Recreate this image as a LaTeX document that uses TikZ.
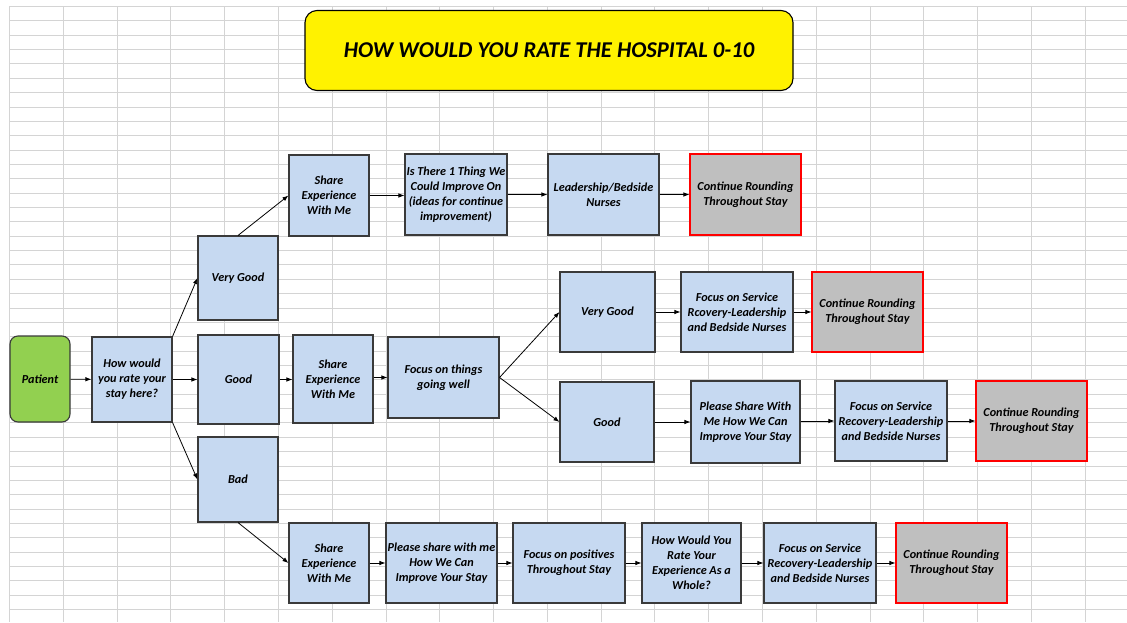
\documentclass[tikz,border=0pt]{standalone}
\usepackage{fontspec}
\setmainfont{Carlito}
\usetikzlibrary{arrows.meta}
\definecolor{gridc}{HTML}{D4D4D4}
\definecolor{boxblue}{HTML}{C6D9F1}
\definecolor{boxline}{HTML}{3A3A3A}
\definecolor{greyfill}{HTML}{BFBFBF}
\definecolor{patgreen}{HTML}{92D050}
\tikzset{
  base/.style={draw=boxline, line width=1.1pt, align=center, inner sep=0pt,
    font=\fontsize{12.2}{15}\selectfont\bfseries\itshape},
  bbox/.style={base, fill=boxblue},
  gbox/.style={base, fill=greyfill, draw=red},
  conn/.style={line width=0.8pt, -{Latex[length=6pt,width=4.5pt]}},
}
\begin{document}
\begin{tikzpicture}[x=1pt,y=-1pt]
\useasboundingbox (0,0) rectangle (1127,622);
\fill[white] (0,0) rectangle (1127,622);
% spreadsheet grid
\foreach \k in {0,...,20} {
  \pgfmathsetmacro{\gx}{round(9+53.79*\k)+0.5}
  \draw[gridc, line width=1.4pt] (\gx,6) -- (\gx,622);
}
\foreach \j in {0,...,42} {
  \pgfmathsetmacro{\gy}{round(6+14.36*\j)+0.5}
  \draw[gridc, line width=1.4pt] (9,\gy) -- (1127,\gy);
}
% title
\node[base, fill=yellow, draw=black, rounded corners=12pt, minimum width=488pt, minimum height=80pt,
  font=\fontsize{22.6}{26}\selectfont\bfseries\itshape] (title) at (549,50.5) {HOW WOULD YOU RATE THE HOSPITAL 0-10};
% left part
\node[base, fill=patgreen, rounded corners=8pt, minimum width=60pt, minimum height=86pt] (patient) at (40,379) {Patient};
\node[bbox, minimum width=80pt, minimum height=85pt] (how) at (132,379.5) {How would\\you rate your\\stay here?};
\node[bbox, minimum width=80pt, minimum height=84pt] (vg1) at (238,278) {Very Good};
\node[bbox, minimum width=81pt, minimum height=89pt] (g1) at (238.5,379.5) {Good};
\node[bbox, minimum width=80pt, minimum height=85pt] (bad) at (238,479.5) {Bad};
% top row
\node[bbox, minimum width=80pt, minimum height=81pt] (share1) at (329,195.5) {Share\\Experience\\With Me};
\node[bbox, minimum width=102pt, minimum height=81pt] (isthere) at (456,194.5) {Is There 1 Thing We\\Could Improve On\\(ideas for continue\\improvement)};
\node[bbox, minimum width=111pt, minimum height=81pt] (lead) at (603.5,194.5) {Leadership/Bedside\\Nurses};
\node[gbox, minimum width=111pt, minimum height=81pt] (cont1) at (745.5,194.5) {Continue Rounding\\Throughout Stay};
% middle row
\node[bbox, minimum width=80pt, minimum height=88pt] (share2) at (333,379) {Share\\Experience\\With Me};
\node[bbox, minimum width=111pt, minimum height=81pt] (focus) at (443.5,377.5) {Focus on things\\going well};
\node[bbox, minimum width=95pt, minimum height=80pt] (vg2) at (607.5,312) {Very Good};
\node[bbox, minimum width=112pt, minimum height=80pt] (fsr1) at (737,312) {Focus on Service\\Rcovery-Leadership\\and Bedside Nurses};
\node[gbox, minimum width=111pt, minimum height=80pt] (cont2) at (867.5,312) {Continue Rounding\\Throughout Stay};
\node[bbox, minimum width=94pt, minimum height=80pt] (g2) at (607,422) {Good};
\node[bbox, minimum width=109pt, minimum height=82pt] (please) at (745.5,422) {Please Share With\\Me How We Can\\Improve Your Stay};
\node[bbox, minimum width=112pt, minimum height=80pt] (fsr2) at (891,421) {Focus on Service\\Recovery-Leadership\\and Bedside Nurses};
\node[gbox, minimum width=111pt, minimum height=80pt] (cont3) at (1031.5,421) {Continue Rounding\\Throughout Stay};
% bottom row
\node[bbox, minimum width=80pt, minimum height=80pt] (share3) at (329,563) {Share\\Experience\\With Me};
\node[bbox, minimum width=111pt, minimum height=80pt] (please3) at (441.5,563) {Please share with me\\How We Can\\Improve Your Stay};
\node[bbox, minimum width=112pt, minimum height=80pt] (fpos) at (569,563) {Focus on positives\\Throughout Stay};
\node[bbox, minimum width=99pt, minimum height=80pt] (hwy) at (691.5,563) {How Would You\\Rate Your\\Experience As a\\Whole?};
\node[bbox, minimum width=112pt, minimum height=80pt] (fsr3) at (820,563) {Focus on Service\\Recovery-Leadership\\and Bedside Nurses};
\node[gbox, minimum width=111pt, minimum height=80pt] (cont4) at (951.5,563) {Continue Rounding\\Throughout Stay};
% connectors
\draw[conn] (patient) -- (how);
\draw[conn] (how.north east) -- (vg1.west);
\draw[conn] (how) -- (g1);
\draw[conn] (how.south east) -- (bad.west);
\draw[conn] (vg1.north) -- (share1.west);
\draw[conn] (share1.east) -- (share1.east -| isthere.west);
\draw[conn] (isthere.east) -- (isthere.east -| lead.west);
\draw[conn] (lead) -- (cont1);
\draw[conn] (g1) -- (share2.west |- g1.east);
\draw[conn] (share2.east |- focus.east) -- (focus.west);
\draw[conn] (focus.east) -- (vg2.west);
\draw[conn] (focus.east) -- (g2.west);
\draw[conn] (vg2) -- (fsr1);
\draw[conn] (fsr1) -- (cont2);
\draw[conn] (g2) -- (please.west |- g2.east);
\draw[conn] (please.east |- fsr2.west) -- (fsr2.west);
\draw[conn] (fsr2) -- (cont3);
\draw[conn] (bad.south) -- (share3.west);
\draw[conn] (share3) -- (please3);
\draw[conn] (please3) -- (fpos);
\draw[conn] (fpos) -- (hwy);
\draw[conn] (hwy) -- (fsr3);
\draw[conn] (fsr3) -- (cont4);
\end{tikzpicture}
\end{document}
